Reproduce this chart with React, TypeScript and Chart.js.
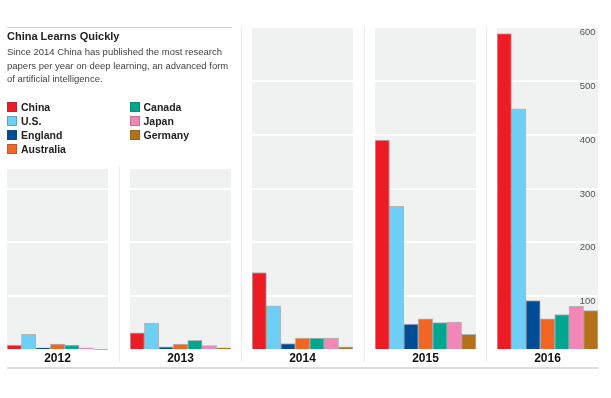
import React, { useEffect, useRef } from "react";
import { Chart, registerables } from "chart.js";
Chart.register(...registerables);

const years = ["2012", "2013", "2014", "2015", "2016"];
const countries = ["China", "U.S.", "England", "Australia", "Canada", "Japan", "Germany"];
const colors = ["#ed1c24", "#6dcff6", "#004c97", "#f26522", "#00a78e", "#f287b7", "#b5701a"];
const china = [9, 32, 144, 390, 588];
const us = [29, 50, 82, 267, 448];
const england = [4, 6, 12, 48, 92];
const australia = [11, 11, 22, 58, 58];
const canada = [9, 18, 22, 51, 66];
const japan = [4, 8, 22, 52, 81];
const germany = [1, 4, 6, 29, 73];
const series = [china, us, england, australia, canada, japan, germany];
const yMax = 600;
const yStep = 100;
// top of the shaded panel, in data units (first two panels are cut by the legend)
const panelTop = [336, 336, 600, 600, 600];

const FONT = "'Liberation Sans', Arial, Helvetica, sans-serif";
const PANEL_LEFT0 = 7;
const PANEL_PITCH = 122.5;
const PANEL_W = 101;
const CANVAS_TOP = 27;
const CANVAS_H = 341;

const bgPlugin = {
  id: "panelBg",
  beforeDraw(chart: any, _args: any, opts: any) {
    const { ctx, chartArea } = chart;
    const y = chart.scales.y.getPixelForValue(opts.top);
    ctx.save();
    ctx.fillStyle = "#f0f1f1";
    ctx.fillRect(chartArea.left, y, chartArea.right - chartArea.left, chartArea.bottom - y);
    ctx.restore();
  },
};

const yLabelPlugin = {
  id: "yLabels",
  afterDatasetsDraw(chart: any, _args: any, opts: any) {
    if (!opts.show) return;
    const { ctx, chartArea } = chart;
    const scale = chart.scales.y;
    ctx.save();
    ctx.font = `9.5px ${FONT}`;
    ctx.fillStyle = "#555";
    ctx.textAlign = "right";
    ctx.textBaseline = "middle";
    scale.ticks.forEach((t: any) => {
      if (t.value <= 0) return;
      const y = scale.getPixelForValue(t.value);
      ctx.fillText(String(t.value), chartArea.right - 2.5, y + 5.5);
    });
    ctx.restore();
  },
};

function Panel({ index }: { index: number }) {
  const ref = useRef<HTMLCanvasElement>(null);
  useEffect(() => {
    const chart = new Chart(ref.current!, {
      type: "bar",
      data: {
        labels: [years[index]],
        datasets: countries.map((c, i) => ({
          label: c,
          data: [series[i][index]],
          backgroundColor: colors[i],
          borderColor: "rgba(70,70,70,0.35)",
          borderWidth: 1,
          categoryPercentage: 1,
          barPercentage: 1,
        })),
      },
      options: {
        animation: false,
        responsive: false,
        layout: { padding: 0 },
        plugins: {
          legend: { display: false },
          tooltip: { enabled: false },
          panelBg: { top: panelTop[index] },
          yLabels: { show: index === years.length - 1 },
        } as any,
        scales: {
          x: {
            grid: { display: false, drawTicks: false },
            border: { display: false },
            ticks: {
              padding: 3,
              color: "#111",
              font: { family: FONT, size: 12, weight: "bold", lineHeight: 1 },
            },
          },
          y: {
            min: 0,
            max: yMax,
            ticks: { display: false, stepSize: yStep },
            grid: {
              color: (c: any) => (c.tick && c.tick.value > panelTop[index] ? "rgba(0,0,0,0)" : "#ffffff"),
              lineWidth: 2,
              drawTicks: false,
            },
            border: { display: false },
          },
        },
      },
      plugins: [bgPlugin, yLabelPlugin],
    });
    return () => chart.destroy();
  }, [index]);
  return (
    <canvas
      ref={ref}
      width={PANEL_W}
      height={CANVAS_H}
      style={{
        position: "absolute",
        left: PANEL_LEFT0 + index * PANEL_PITCH,
        top: CANVAS_TOP,
        width: PANEL_W,
        height: CANVAS_H,
      }}
    />
  );
}

const legendCol1 = [0, 1, 2, 3];
const legendCol2 = [4, 5, 6];

export default function App() {
  useEffect(() => {
    document.body.style.margin = "0";
  }, []);
  const sepXs = [119.5, 241.5, 364, 486];
  return (
    <div style={{ position: "relative", width: 611, height: 398, background: "#fff", fontFamily: FONT, overflow: "hidden" }}>
      {sepXs.map((x, i) => (
        <div
          key={i}
          style={{
            position: "absolute",
            left: x - 0.5,
            top: i === 0 ? 166 : 27,
            width: 1,
            height: i === 0 ? 196 : 335,
            background: "#ececec",
          }}
        />
      ))}
      {years.map((_, i) => (
        <Panel key={i} index={i} />
      ))}
      <div style={{ position: "absolute", left: 7, top: 27, width: 225, height: 1, background: "#cfcfcf" }} />
      <div style={{ position: "absolute", left: 7, top: 367, width: 591, height: 2, background: "#dcdcdc" }} />
      <div style={{ position: "absolute", left: 7, top: 30, fontSize: 11, fontWeight: "bold", color: "#222", whiteSpace: "nowrap" }}>
        China Learns Quickly
      </div>
      <div style={{ position: "absolute", left: 7, top: 45, fontSize: 9.5, lineHeight: "13.5px", color: "#444", width: 240 }}>
        Since 2014 China has published the most research
        <br />
        papers per year on deep learning, an advanced form
        <br />
        of artificial intelligence.
      </div>
      {[legendCol1, legendCol2].map((col, ci) =>
        col.map((si, ri) => (
          <div
            key={si}
            style={{
              position: "absolute",
              left: ci === 0 ? 7 : 129.5,
              top: 101 + ri * 14,
              height: 12,
              display: "flex",
              alignItems: "center",
              whiteSpace: "nowrap",
            }}
          >
            <div style={{ width: 10, height: 10, background: colors[si], boxSizing: "border-box", border: "1px solid rgba(70,70,70,0.3)", marginRight: 4 }} />
            <span style={{ fontSize: 10.5, fontWeight: "bold", color: "#222" }}>{countries[si]}</span>
          </div>
        ))
      )}
    </div>
  );
}
